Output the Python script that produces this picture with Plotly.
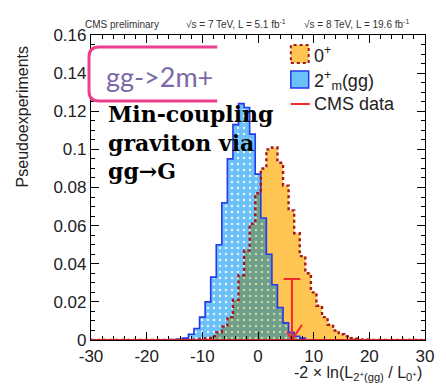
import plotly.graph_objects as go

# ---------------- data ----------------
bin_centers = list(range(-15, 21))  # bin width 1
blue_2m_gg = [0.0002, 0.0005, 0.001, 0.003, 0.006, 0.012, 0.020, 0.033, 0.050, 0.072,
              0.095, 0.113, 0.124, 0.122, 0.108, 0.087, 0.064, 0.045, 0.029, 0.017,
              0.009, 0.004, 0.002, 0.001, 0, 0, 0, 0, 0, 0,
              0, 0, 0, 0, 0, 0]
orange_0p = [0, 0, 0, 0, 0.0002, 0.0005, 0.001, 0.002, 0.004, 0.007,
             0.012, 0.021, 0.034, 0.047, 0.061, 0.077, 0.090, 0.100, 0.101, 0.093,
             0.081, 0.068, 0.056, 0.044, 0.035, 0.025, 0.018, 0.012, 0.008, 0.005,
             0.003, 0.002, 0.001, 0.0007, 0.0003, 0.0001]
cms_data_value = 6.1
cms_data_marker_height = 0.032

x_tick_vals = [-30, -20, -10, 0, 10, 20, 30]
x_tick_labels = ["-30", "-20", "-10", "0", "10", "20", "30"]
y_tick_vals = [0, 0.02, 0.04, 0.06, 0.08, 0.10, 0.12, 0.14, 0.16]
y_tick_labels = ["0", "0.02", "0.04", "0.06", "0.08", "0.1", "0.12", "0.14", "0.16"]

X_RANGE = [-30, 30]
Y_RANGE = [0, 0.16]

# ---------------- geometry helpers (pixel -> paper) ----------------
W, H = 446, 384
ML, MR, MT, MB = 91, 19, 35, 44
PW, PH = W - ML - MR, H - MT - MB


def px(xp):
    return (xp - ML) / PW


def py(yp):
    return (H - MB - yp) / PH


def steps(vals):
    xs = [X_RANGE[0]] + [c - 0.5 for c in bin_centers] + [bin_centers[-1] + 0.5, X_RANGE[1]]
    ys = [0] + list(vals) + [0, 0]
    return xs, ys


overlap = [min(a, b) for a, b in zip(blue_2m_gg, orange_0p)]

ORANGE = "#FFC552"
ORANGE_LINE = "#A51818"
BLUE = "#6CC2F8"
BLUE_LINE = "#2438EE"
OVERLAP = "#6F9F8B"
RED = "#F42A2A"

fig = go.Figure()

xo, yo = steps(orange_0p)
xb, yb = steps(blue_2m_gg)
xv, yv = steps(overlap)

fig.add_trace(go.Scatter(x=xo, y=yo, mode="lines", line=dict(width=0, shape="hv"),
                         fill="tozeroy", fillcolor=ORANGE, showlegend=False, hoverinfo="skip"))
fig.add_trace(go.Scatter(x=xb, y=yb, mode="lines", line=dict(width=0, shape="hv"),
                         fill="tozeroy", fillcolor=BLUE,
                         fillpattern=dict(shape=".", bgcolor=BLUE, fgcolor="#EAF6FF",
                                          size=6, solidity=0.12, fillmode="replace"),
                         showlegend=False, hoverinfo="skip"))
fig.add_trace(go.Scatter(x=xv, y=yv, mode="lines", line=dict(width=0, shape="hv"),
                         fill="tozeroy", fillcolor=OVERLAP,
                         fillpattern=dict(shape=".", bgcolor=OVERLAP, fgcolor="#C9D9A0",
                                          size=6, solidity=0.12, fillmode="replace"),
                         showlegend=False, hoverinfo="skip"))
fig.add_trace(go.Scatter(x=xb, y=yb, mode="lines", line=dict(width=1.6, shape="hv", color=BLUE_LINE),
                         showlegend=False, hoverinfo="skip"))
fig.add_trace(go.Scatter(x=xo, y=yo, mode="lines",
                         line=dict(width=2.4, shape="hv", color=ORANGE_LINE, dash="dot"),
                         showlegend=False, hoverinfo="skip"))

# CMS data arrow
dv, dh = cms_data_value, cms_data_marker_height
fig.add_trace(go.Scatter(x=[dv, dv], y=[0, dh], mode="lines", line=dict(color=RED, width=2),
                         showlegend=False, hoverinfo="skip"))
fig.add_trace(go.Scatter(x=[dv - 1.5, dv + 1.5], y=[dh, dh], mode="lines", line=dict(color=RED, width=2),
                         showlegend=False, hoverinfo="skip"))
fig.add_trace(go.Scatter(x=[dv - 0.9, dv, dv + 1.8], y=[0.0045, 0, 0.008], mode="lines",
                         line=dict(color=RED, width=2), showlegend=False, hoverinfo="skip"))

shapes = []
# red baseline along y=0
shapes.append(dict(type="line", xref="x", yref="y", x0=X_RANGE[0], x1=X_RANGE[1], y0=0, y1=0,
                   line=dict(color="#C8262A", width=2.2), layer="above"))

# pink box (open on the right)
r = 10
path = (f"M {px(218)},{py(47)} L {px(89 + r)},{py(47)} Q {px(89)},{py(47)} {px(89)},{py(47 + r)} "
        f"L {px(89)},{py(101 - r)} Q {px(89)},{py(101)} {px(89 + r)},{py(101)} L {px(218)},{py(101)}")
shapes.append(dict(type="path", xref="paper", yref="paper", path=path,
                   fillcolor="white", line=dict(color="#EE3F8E", width=3), layer="above"))

# legend swatches
shapes.append(dict(type="rect", xref="paper", yref="paper", x0=px(292), x1=px(310), y0=py(63), y1=py(45),
                   fillcolor=ORANGE, line=dict(color=ORANGE_LINE, width=2, dash="dot"), layer="above"))
shapes.append(dict(type="rect", xref="paper", yref="paper", x0=px(292), x1=px(310), y0=py(88), y1=py(71),
                   fillcolor=BLUE, line=dict(color=BLUE_LINE, width=1.5), layer="above"))
shapes.append(dict(type="line", xref="paper", yref="paper", x0=px(292), x1=px(311), y0=py(104), y1=py(104),
                   line=dict(color=RED, width=2), layer="above"))

SANS = "Liberation Sans, Arial, sans-serif"
ann = []


def A(text, x, y, size, xanchor="left", color="#222", family=SANS, **kw):
    ann.append(dict(text=text, x=px(x), y=py(y), xref="paper", yref="paper", showarrow=False,
                    xanchor=xanchor, yanchor="middle", font=dict(size=size, color=color, family=family), **kw))


A("CMS preliminary", 83, 24, 10, color="#333")
A("√s = 7 TeV, L = 5.1 fb<sup>-1</sup>", 185, 24, 10, color="#333")
A("√s = 8 TeV, L = 19.6 fb<sup>-1</sup>", 303, 24, 10, color="#333")
A("Pseudoexperiments", 22, 117, 16, xanchor="center", textangle=-90)
A("-2 × ln(L<sub>2<sup>+</sup>(gg)</sub> / L<sub>0<sup>+</sup></sub>)", 426, 373, 16, xanchor="right")
A("gg->2m+", 104, 76, 27, color="#7A68A8", family="Lato, Open Sans, sans-serif")
A("<b>Min-coupling<br>graviton via<br>gg→G</b>", 106, 142, 22, color="black",
  family="DejaVu Serif, serif", align="left")
A("0<sup>+</sup>", 313, 55, 18)
A("2<sup>+</sup><sub>m</sub>(gg)", 313, 80, 18)
A("CMS data", 313, 104, 18)

axis_common = dict(showline=True, linecolor="black", linewidth=1.2, mirror="allticks",
                   ticks="inside", tickcolor="black", showgrid=False, zeroline=False,
                   tickfont=dict(family=SANS, size=17, color="#222"))

fig.update_layout(
    width=W, height=H, autosize=False,
    margin=dict(l=ML, r=MR, t=MT, b=MB, pad=0),
    paper_bgcolor="white", plot_bgcolor="white",
    xaxis=dict(range=X_RANGE, tickmode="array", tickvals=x_tick_vals, ticktext=x_tick_labels,
               ticklen=8, tickwidth=1.2,
               minor=dict(ticks="inside", tickmode="array",
                          tickvals=[v for v in range(-30, 31, 2)], ticklen=4, tickcolor="black"),
               **axis_common),
    yaxis=dict(range=Y_RANGE, tickmode="array", tickvals=y_tick_vals, ticktext=y_tick_labels,
               ticklen=8, tickwidth=1.2,
               minor=dict(ticks="inside", tickmode="array",
                          tickvals=[i * 0.005 for i in range(33)], ticklen=4, tickcolor="black"),
               **axis_common),
    shapes=shapes, annotations=ann,
)

fig.write_html("out.html")
